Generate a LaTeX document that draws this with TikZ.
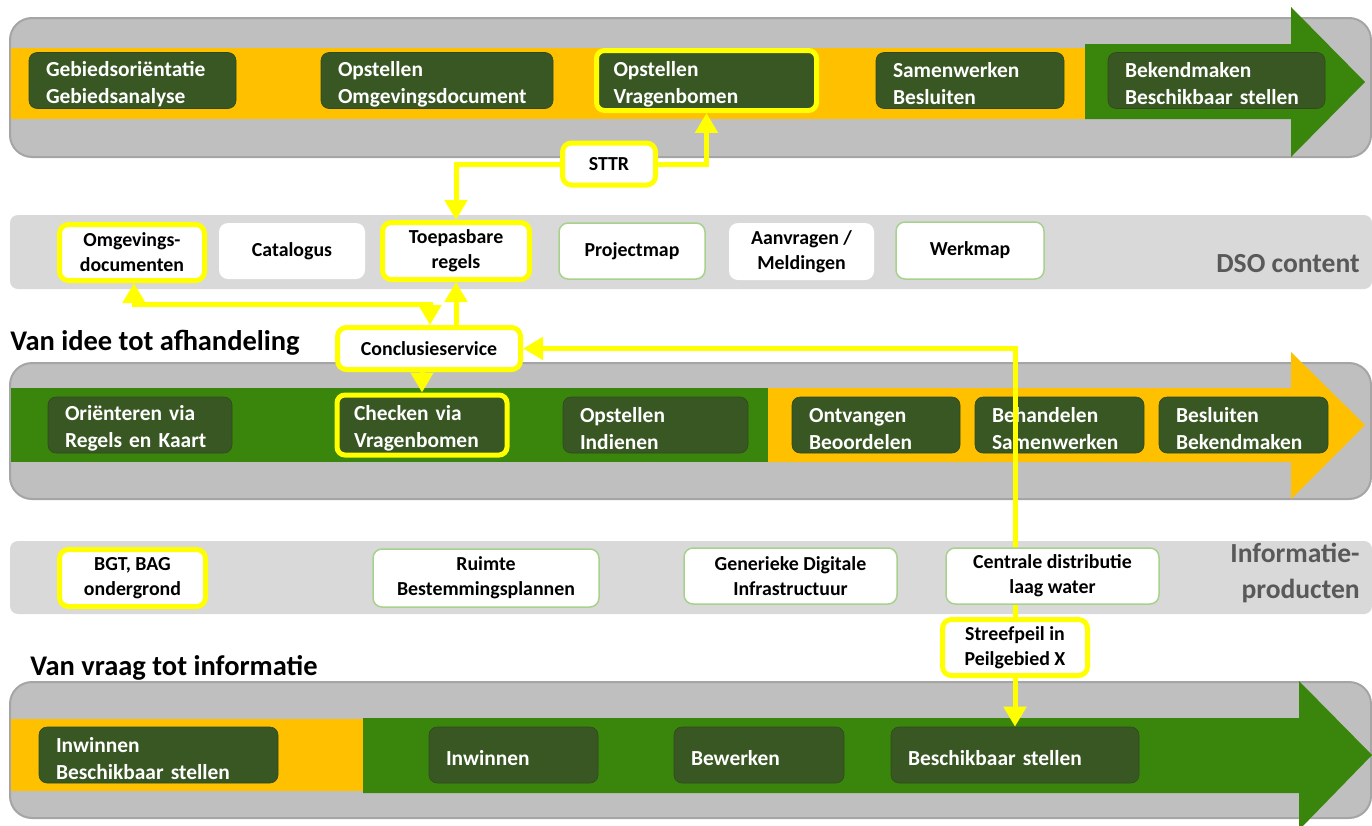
\documentclass[tikz,border=0pt]{standalone}
\usepackage{fontspec}
\setmainfont{Carlito}
\usetikzlibrary{arrows.meta}
\definecolor{bandgray}{HTML}{BFBFBF}
\definecolor{bandedge}{HTML}{A5A5A5}
\definecolor{lightband}{HTML}{D9D9D9}
\definecolor{orng}{HTML}{FFC000}
\definecolor{grn}{HTML}{3A860C}
\definecolor{dkgrn}{HTML}{385723}
\definecolor{ylw}{HTML}{FFFF00}
\definecolor{lgrn}{HTML}{A9D18E}
\definecolor{txtgray}{HTML}{595959}
\newdimen\px
\px=0.02cm
\protected\def\dkstrut{\fontdimen2\font=0.14em\relax\vrule width 0pt height 12.5pt\relax}
\pgfdeclarelayer{bg}
\pgfdeclarelayer{mid}
\pgfsetlayers{bg,mid,main}
\begin{document}
\begin{tikzpicture}[x=0.02cm,y=-0.02cm,
  band/.style={draw=bandedge, fill=bandgray, line width=2\px, rounded corners=22\px},
  lband/.style={fill=lightband, rounded corners=8\px},
  dbox/.style={fill=dkgrn, draw=dkgrn!85!black, line width=0.6\px, rounded corners=8\px, text=white, font=\fontsize{12.2}{15.3}\selectfont\bfseries, align=left, inner xsep=17\px, inner ysep=0pt, minimum height=56\px, execute at begin node=\dkstrut},
  wbox/.style={fill=white, rounded corners=9\px, text=black, font=\fontsize{11.3}{14.2}\selectfont\bfseries, align=center, inner sep=0pt},
  ybord/.style={draw=ylw, line width=5\px},
  gbord/.style={draw=lgrn, line width=1.5\px},
  conn/.style={draw=ylw, line width=0.1cm},
  arr/.style={conn, -{Triangle[width=0.44cm,length=0.4cm]}},
  dbl/.style={conn, {Triangle[width=0.44cm,length=0.4cm]}-{Triangle[width=0.44cm,length=0.4cm]}},
  sidelbl/.style={text=txtgray, font=\fontsize{15.7}{20.4}\selectfont\bfseries, align=right, inner sep=0pt},
  ttl/.style={text=black, font=\fontsize{16.2}{19}\selectfont\bfseries, inner sep=0pt, anchor=base west}
]
\useasboundingbox (0,0) rectangle (1372,825);

\begin{pgfonlayer}{bg}
% ---------- band 1 ----------
\draw[band] (10,18) rectangle (1371,157);
\fill[orng] (11,48) rectangle (1086,119);
\fill[grn] (1085,44) -- (1291,44) -- (1291,7) -- (1365,82) -- (1291,157) -- (1291,119) -- (1085,119) -- cycle;
\node[dbox, text width=173\px] (g1) at (132.5,80.5) {Gebiedsoriëntatie\\Gebiedsanalyse};
\node[dbox, text width=198\px] (g2) at (437,80.5) {Opstellen\\Omgevingsdocument};
\node[dbox, ybord, text width=186\px, minimum height=60\px] (g3) at (706.5,80.5) {Opstellen\\Vragenbomen};
\node[dbox, text width=154\px] (g4) at (970,80.5) {Samenwerken\\Besluiten};
\node[dbox, text width=183\px] (g5) at (1216.5,80.5) {Bekendmaken\\Beschikbaar stellen};

% ---------- band 2 ----------
\fill[lband] (10,215) rectangle (1372,289);

% ---------- band 3 ----------
\draw[band] (10,363) rectangle (1371,499);
\fill[grn] (11,388) rectangle (770,462);
\fill[orng] (768,388) -- (1291,388) -- (1291,352) -- (1365,425) -- (1291,499) -- (1291,462) -- (768,462) -- cycle;
\node[dbox, text width=150\px] (p1) at (140,425) {Oriënteren via\\Regels en Kaart};
\node[dbox, ybord, text width=136\px, minimum height=60\px] (p2) at (422,425) {Checken via\\Vragenbomen};
\node[dbox, text width=151\px] (p3) at (655.5,425) {Opstellen\\Indienen};
\node[dbox, text width=134\px] (p4) at (876,425) {Ontvangen\\Beoordelen};
\node[dbox, text width=135\px] (p5) at (1059.5,425) {Behandelen\\Samenwerken};
\node[dbox, text width=135\px] (p6) at (1243.5,425) {Besluiten\\Bekendmaken};

% ---------- band 4 ----------
\fill[lband] (10,541) rectangle (1372,614);

% ---------- band 5 ----------
\draw[band] (10,682) rectangle (1371,818);
\fill[orng] (11,719) rectangle (364,791);
\fill[grn] (363,718) -- (1299,718) -- (1299,681) -- (1372,755) -- (1299,830) -- (1299,793) -- (363,793) -- cycle;
\node[dbox, text width=205\px] (q1) at (158.5,755) {Inwinnen\\Beschikbaar stellen};
\node[dbox, text width=135\px] (q2) at (513.5,755) {Inwinnen};
\node[dbox, text width=136\px] (q3) at (759,755) {Bewerken};
\node[dbox, text width=214\px] (q4) at (1015,755) {Beschikbaar stellen};
\end{pgfonlayer}

% ---------- titles and side labels ----------
\node[ttl] (t1) at (10,350) {Van idee tot afhandeling};
\node[ttl] (t2) at (30,675) {Van vraag tot informatie};
\node[sidelbl, anchor=base east] (s1) at (1360,272) {DSO content};
\node[sidelbl, anchor=east] (s2) at (1360,573) {Informatie-\\producten};

% ---------- white boxes: DSO content ----------
\node[wbox, ybord, minimum width=145\px, minimum height=56\px] (d1) at (132,252.5) {Omgevings-\\documenten};
\node[wbox, minimum width=146\px, minimum height=56\px] (d2) at (292,251) {Catalogus};
\node[wbox, ybord, minimum width=147\px, minimum height=57\px] (d3) at (456,251) {Toepasbare\\regels};
\node[wbox, gbord, minimum width=146\px, minimum height=56\px] (d4) at (632,251) {Projectmap};
\node[wbox, minimum width=145\px, minimum height=57\px] (d5) at (801.5,251.5) {Aanvragen /\\Meldingen};
\node[wbox, gbord, minimum width=148\px, minimum height=57\px] (d6) at (970,250.5) {Werkmap};

% ---------- white boxes: Informatieproducten ----------
\node[wbox, ybord, minimum width=146\px, minimum height=57\px] (i1) at (132.5,578) {BGT, BAG\\ondergrond};
\node[wbox, gbord, minimum width=226\px, minimum height=58\px] (i2) at (486,578) {Ruimte\\Bestemmingsplannen};
\node[wbox, gbord, minimum width=213\px, minimum height=56\px] (i3) at (790.5,576) {Generieke Digitale\\Infrastructuur};
\node[wbox, gbord, minimum width=213\px, minimum height=56\px] (i4) at (1052.5,576) {Centrale distributie\\laag water};

% ---------- service boxes ----------
\node[wbox, ybord, minimum width=93\px, minimum height=42\px] (sttr) at (609,164) {STTR};
\node[wbox, ybord, minimum width=183\px, minimum height=42\px] (concl) at (429,348.5) {Conclusieservice};
\node[wbox, ybord, minimum width=145\px, minimum height=56\px] (sp) at (1015,647.5) {Streefpeil in\\Peilgebied X};

% ---------- connectors ----------
\begin{pgfonlayer}{mid}
\coordinate (k1) at (430,304);
\coordinate (k2) at (134,304);
\draw[arr] (sttr.west) -| (d3.north);
\draw[arr] (sttr.east) -| (g3.south);
\draw[arr] (d3.south |- concl.north) -- (d3.south);
\draw[arr] (p2.north |- concl.south) -- (p2.north);
\draw[dbl] (d1.south -| k2) -- (k2) -- (k1) -- (k1 |- concl.north);
\draw[arr] (sp.north) |- (concl.east);
\draw[arr] (sp.south) -- (q4.north);
\end{pgfonlayer}
\end{tikzpicture}
\end{document}
